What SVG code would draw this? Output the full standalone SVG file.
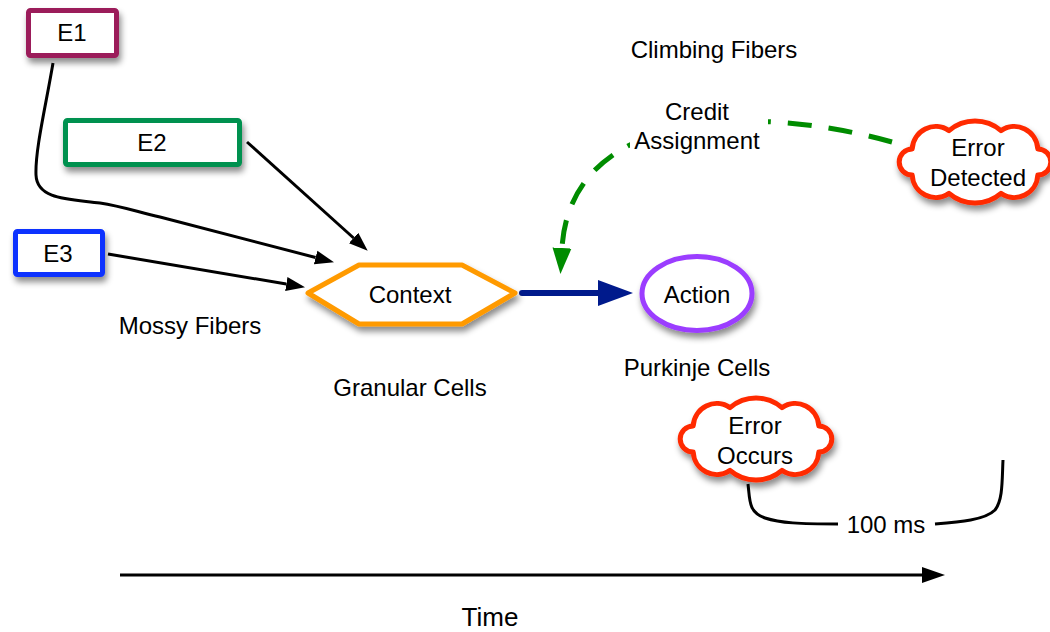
<svg xmlns="http://www.w3.org/2000/svg" width="1050" height="632" viewBox="0 0 1050 632">
<defs>
<style>
text{font-family:"Liberation Sans",Arial,Helvetica,sans-serif;font-size:24px;fill:#000;text-anchor:middle}
.box{fill:#fff;stroke-width:5}
.conn{fill:none;stroke:#000;stroke-width:3}
.cloud{fill:#fff;stroke:#ff2a00;stroke-width:5;stroke-linejoin:round}
</style>
<filter id="sh" x="-20%" y="-20%" width="150%" height="160%">
<feDropShadow dx="2" dy="5" stdDeviation="3" flood-color="#000" flood-opacity="0.45"/>
</filter>
<marker id="ab" markerUnits="userSpaceOnUse" viewBox="0 -8 19 16" markerWidth="19" markerHeight="16" refX="0" refY="0" orient="auto">
<path d="M0,-7 L19,0 L0,7 z" fill="#000"/>
</marker>
<marker id="an" markerUnits="userSpaceOnUse" viewBox="0 -14 35 28" markerWidth="35" markerHeight="28" refX="0" refY="0" orient="auto">
<path d="M0,-13 L35,0 L0,13 z" fill="#001a8c"/>
</marker>
<marker id="ag" markerUnits="userSpaceOnUse" viewBox="0 -10 26 20" markerWidth="26" markerHeight="20" refX="0" refY="0" orient="auto">
<path d="M0,-9.5 L26,0 L0,9.5 z" fill="#008c00"/>
</marker>
<marker id="at" markerUnits="userSpaceOnUse" viewBox="0 -9 23 18" markerWidth="23" markerHeight="18" refX="0" refY="0" orient="auto">
<path d="M0,-8 L23,0 L0,8 z" fill="#000"/>
</marker>
<path id="cloudshape" d="M818.8,452 A23.6,23.6 0 0 1 782,470.4 A40,40 0 0 1 730,470.4 A23.6,23.6 0 0 1 693.2,452 A13,13 0 0 1 693.2,426 A23.6,23.6 0 0 1 730,407.6 A40,40 0 0 1 782,407.6 A23.6,23.6 0 0 1 818.8,426 A13,13 0 0 1 818.8,452 Z"/>
</defs>
<rect width="1050" height="632" fill="#fff"/>

<g id="connectors">
<path class="conn" d="M53,63 C46,105 35,150 36,175 C37,200 70,199 100,203 C120,206 135,211 160,217 L315.6,257.5" marker-end="url(#ab)"/>
<path class="conn" d="M247,142 L353.6,238" marker-end="url(#ab)"/>
<path class="conn" d="M108,254 L286.3,284" marker-end="url(#ab)"/>
<path d="M522,293 L598,293" fill="none" stroke="#001a8c" stroke-width="6" stroke-linecap="round" marker-end="url(#an)"/>
<path d="M892,142 C740,100 570,115 562,248" fill="none" stroke="#008c00" stroke-width="5" stroke-dasharray="24 17" marker-end="url(#ag)"/>
<path class="conn" d="M120,575 L922,575" marker-end="url(#at)"/>
<path class="conn" d="M748,484 C750,500 748,512 765,518 C780,523 800,524 838,524"/>
<path class="conn" d="M935,524 C960,522 985,520 995,510 C1003,500 1002,480 1003,460"/>
</g>

<g id="E1">
<rect class="box" x="28.5" y="10.5" width="88" height="45" rx="2" stroke="#9b1b5a" filter="url(#sh)"/>
<text x="72" y="41">E1</text>
</g>
<g id="E2">
<rect class="box" x="65.5" y="120.5" width="174" height="44" rx="2" stroke="#00914f" filter="url(#sh)"/>
<text x="152" y="151">E2</text>
</g>
<g id="E3">
<rect class="box" x="15.5" y="231.5" width="87" height="43" rx="2" stroke="#0a30ff" filter="url(#sh)"/>
<text x="58" y="262">E3</text>
</g>
<g id="context">
<polygon class="box" points="308,293 359,265 462,265 515,293 462,324 359,324" stroke="#ff9a00" stroke-linejoin="round" filter="url(#sh)"/>
<text x="410" y="303">Context</text>
</g>
<g id="action">
<ellipse class="box" cx="697" cy="293.5" rx="55" ry="37" stroke="#9b3cff" filter="url(#sh)"/>
<text x="697" y="303">Action</text>
</g>
<g id="error-occurs">
<use href="#cloudshape" class="cloud" filter="url(#sh)"/>
<text x="755" y="434">Error</text>
<text x="755" y="464">Occurs</text>
</g>
<g id="error-detected">
<use href="#cloudshape" class="cloud" transform="translate(219,-277)" filter="url(#sh)"/>
<text x="978" y="156">Error</text>
<text x="978" y="186">Detected</text>
</g>

<g id="labels">
<text x="714" y="58">Climbing Fibers</text>
<rect x="630" y="96" width="138" height="62" fill="#fff"/>
<text x="697" y="120">Credit</text>
<text x="697" y="149">Assignment</text>
<text x="190" y="334">Mossy Fibers</text>
<text x="410" y="396">Granular Cells</text>
<text x="697" y="376">Purkinje Cells</text>
<text x="886" y="533">100 ms</text>
<text x="490" y="626" style="font-size:26px">Time</text>
</g>
</svg>
